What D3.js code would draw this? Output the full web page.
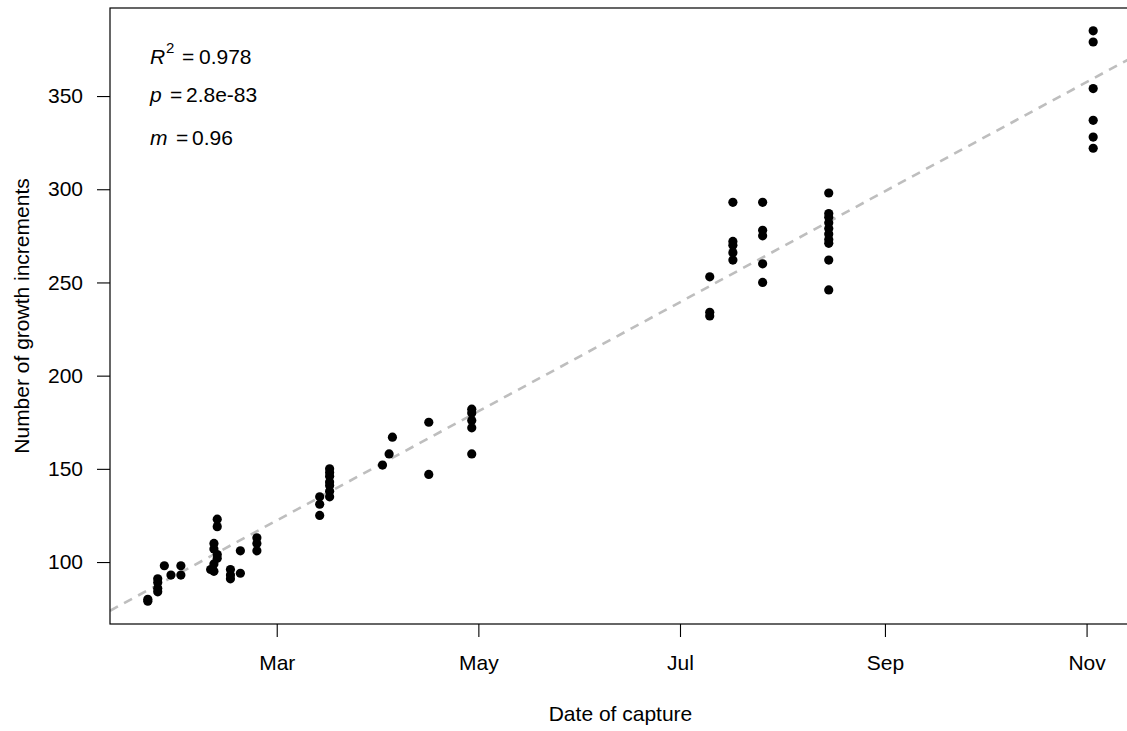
<!DOCTYPE html>
<html>
<head>
<meta charset="utf-8">
<script src="https://cdn.jsdelivr.net/npm/d3@7"></script>
<style>
  body { margin: 0; background: #fff; }
  svg { display: block; font-family: "Liberation Sans", Arial, sans-serif; }
</style>
</head>
<body>
<div id="growth-chart"></div>
<script>
// capture date and increment count, one entry per fish
var captureDates = [
  "2019-01-21", "2019-01-21",
  "2019-01-24", "2019-01-24", "2019-01-24", "2019-01-24",
  "2019-01-26", "2019-01-28", "2019-01-31", "2019-01-31",
  "2019-02-09",
  "2019-02-10", "2019-02-10", "2019-02-10", "2019-02-10",
  "2019-02-11", "2019-02-11", "2019-02-11", "2019-02-11",
  "2019-02-15", "2019-02-15", "2019-02-15",
  "2019-02-18", "2019-02-18",
  "2019-02-23", "2019-02-23", "2019-02-23",
  "2019-03-14", "2019-03-14", "2019-03-14",
  "2019-03-17", "2019-03-17", "2019-03-17", "2019-03-17", "2019-03-17", "2019-03-17", "2019-03-17",
  "2019-04-02", "2019-04-04", "2019-04-05",
  "2019-04-16", "2019-04-16",
  "2019-04-29", "2019-04-29", "2019-04-29", "2019-04-29", "2019-04-29",
  "2019-07-10", "2019-07-10", "2019-07-10",
  "2019-07-17", "2019-07-17", "2019-07-17", "2019-07-17", "2019-07-17",
  "2019-07-26", "2019-07-26", "2019-07-26", "2019-07-26", "2019-07-26",
  "2019-08-15", "2019-08-15", "2019-08-15", "2019-08-15", "2019-08-15",
  "2019-08-15", "2019-08-15", "2019-08-15", "2019-08-15", "2019-08-15",
  "2019-11-03", "2019-11-03", "2019-11-03", "2019-11-03", "2019-11-03", "2019-11-03"
];

var growthIncrements = [
  80, 79,
  91, 89, 86, 84,
  98, 93, 98, 93,
  96,
  110, 107, 99, 95,
  123, 119, 104, 102,
  96, 93, 91,
  106, 94,
  113, 110, 106,
  135, 131, 125,
  150, 148, 146, 143, 141, 138, 135,
  152, 158, 167,
  175, 147,
  182, 180, 176, 172, 158,
  253, 234, 232,
  293, 272, 270, 266, 262,
  293, 278, 275, 260, 250,
  298, 287, 285, 282, 279, 276, 273, 271, 262, 246,
  385, 379, 354, 337, 328, 322
];

var yTicks = [100, 150, 200, 250, 300, 350];
var xTickDates = ["2019-03-01", "2019-05-01", "2019-07-01", "2019-09-01", "2019-11-01"];

// linear fit: increments = fitIntercept + fitSlope * days since fitOrigin
var fitOrigin = "2019-03-01",
    fitSlope = 0.96,
    fitIntercept = 122.3;

var statsLines = [
  { sym: "R", sup: "2", val: "0.978" },
  { sym: "p", sup: "", val: "2.8e-83" },
  { sym: "m", sup: "", val: "0.96" }
];

var width = 1127,
    height = 731,
    margin = {top: 8, right: -4, bottom: 107, left: 110},
    plotW = width - margin.left - margin.right,
    plotH = height - margin.top - margin.bottom,
    fontPx = "21px";

var parseDate = d3.timeParse("%Y-%m-%d");
var DAY = 86400000;

var data = captureDates.map(function(d, i) {
  return { date: parseDate(d), count: growthIncrements[i] };
});

var svg = d3.select("#growth-chart").append("svg")
    .attr("width", width)
    .attr("height", height);

var g = svg.append("g")
    .attr("transform", "translate(" + margin.left + "," + margin.top + ")");

// R style: data range padded by 4% on each side
var xExt = d3.extent(data, function(d) { return d.date; }),
    xPad = (xExt[1] - xExt[0]) * 0.04;
var x = d3.scaleTime()
    .domain([new Date(+xExt[0] - xPad), new Date(+xExt[1] + xPad)])
    .range([0, plotW]);

var yExt = d3.extent(data, function(d) { return d.count; }),
    yPad = (yExt[1] - yExt[0]) * 0.04;
var y = d3.scaleLinear()
    .domain([yExt[0] - yPad, yExt[1] + yPad])
    .range([plotH, 0]);

svg.append("defs").append("clipPath")
    .attr("id", "plot-clip")
  .append("rect")
    .attr("width", plotW)
    .attr("height", plotH);

// fitted line
var origin = parseDate(fitOrigin);
var fitLine = x.domain().map(function(d) {
  return { date: d, count: fitIntercept + fitSlope * (d - origin) / DAY };
});

g.append("path")
    .datum(fitLine)
    .attr("clip-path", "url(#plot-clip)")
    .attr("fill", "none")
    .attr("stroke", "#bebebe")
    .attr("stroke-width", 2.6)
    .attr("stroke-dasharray", "9,7")
    .attr("d", d3.line()
      .x(function(d) { return x(d.date); })
      .y(function(d) { return y(d.count); }));

g.append("g")
    .selectAll("circle")
    .data(data)
  .enter().append("circle")
    .attr("cx", function(d) { return x(d.date); })
    .attr("cy", function(d) { return y(d.count); })
    .attr("r", 4.6)
    .attr("fill", "#000");

// box
g.append("rect")
    .attr("width", plotW)
    .attr("height", plotH)
    .attr("fill", "none")
    .attr("stroke", "#000")
    .attr("stroke-width", 1.2);

var xAxis = g.append("g")
    .attr("transform", "translate(0," + plotH + ")")
    .call(d3.axisBottom(x)
      .tickValues(xTickDates.map(parseDate))
      .tickFormat(d3.timeFormat("%b"))
      .tickSize(13)
      .tickPadding(18));

var yAxis = g.append("g")
    .call(d3.axisLeft(y)
      .tickValues(yTicks)
      .tickSize(13)
      .tickPadding(14));

[xAxis, yAxis].forEach(function(a) {
  a.select(".domain").remove();
  a.selectAll("line").attr("stroke", "#000").attr("stroke-width", 1.1);
  a.selectAll("text")
      .attr("fill", "#000")
      .style("font-size", fontPx)
      .style("font-family", "'Liberation Sans', Arial, sans-serif");
});

// axis titles
svg.append("text")
    .attr("x", margin.left + plotW / 2)
    .attr("y", 721)
    .attr("text-anchor", "middle")
    .style("font-size", fontPx)
    .text("Date of capture");

svg.append("text")
    .attr("transform", "rotate(-90)")
    .attr("x", -(margin.top + plotH / 2))
    .attr("y", 29)
    .attr("text-anchor", "middle")
    .style("font-size", fontPx)
    .text("Number of growth increments");

// fit statistics
var statY = [64, 102, 145],
    eqX = [182, 170, 176],
    valX = [199, 186, 192];

var stats = svg.append("g")
    .selectAll("g")
    .data(statsLines)
  .enter().append("g")
    .attr("transform", function(d, i) { return "translate(0," + statY[i] + ")"; })
    .style("font-size", fontPx);

stats.append("text")
    .attr("x", 150)
    .style("font-style", "italic")
    .text(function(d) { return d.sym; });

stats.append("text")
    .attr("x", 166)
    .attr("y", -11)
    .style("font-size", "15px")
    .text(function(d) { return d.sup; });

stats.append("text")
    .attr("x", function(d, i) { return eqX[i]; })
    .text("=");

stats.append("text")
    .attr("x", function(d, i) { return valX[i]; })
    .text(function(d) { return d.val; });
</script>
</body>
</html>
